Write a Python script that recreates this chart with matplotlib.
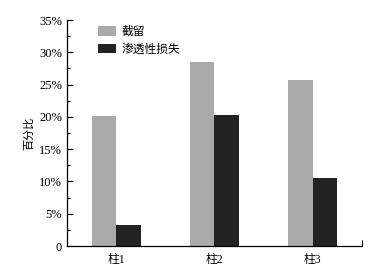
import matplotlib

matplotlib.use("Agg")
import matplotlib.pyplot as plt
from matplotlib.ticker import FixedLocator, MultipleLocator

plt.rcParams["font.family"] = ["Liberation Serif", "Noto Sans CJK SC"]

categories = ["柱1", "柱2", "柱3"]
jieliu = [20.1, 28.5, 25.7]      # 截留
shentou = [3.2, 20.3, 10.6]      # 渗透性损失
yticks = [0, 5, 10, 15, 20, 25, 30, 35]
ylabels = ["0", "5%", "10%", "15%", "20%", "25%", "30%", "35%"]

fig = plt.figure(figsize=(3.83, 2.74), dpi=100)
ax = fig.add_axes([0.175, 0.102, 0.77, 0.825])

x = [1, 2, 3]
w = 0.25
ax.bar([i - w / 2 for i in x], jieliu, width=w, color="#aaaaaa", label="截留")
ax.bar([i + w / 2 for i in x], shentou, width=w, color="#222222", label="渗透性损失")

ax.set_xlim(0.5, 3.5)
ax.set_ylim(0, 35)
ax.set_xticks(x)
ax.set_xticklabels(categories, fontsize=8.5)
ax.xaxis.set_minor_locator(FixedLocator([3.5]))
ax.set_yticks(yticks)
ax.set_yticklabels(ylabels, fontsize=9)
ax.yaxis.set_minor_locator(MultipleLocator(2.5))
ax.tick_params(axis="y", which="major", direction="in", length=4, width=0.8)
ax.tick_params(axis="y", which="minor", direction="in", length=2.5, width=0.8)
ax.tick_params(axis="x", which="major", length=0, pad=6)
ax.tick_params(axis="x", which="minor", direction="in", length=4, width=0.8)

for s in ("top", "right"):
    ax.spines[s].set_visible(False)
for s in ("left", "bottom"):
    ax.spines[s].set_linewidth(0.9)

ax.set_ylabel("百分比", fontsize=8, labelpad=4)
ax.legend(loc="upper left", bbox_to_anchor=(0.07, 1.02), frameon=False, fontsize=8.5,
          handlelength=1.5, handleheight=0.8, handletextpad=0.5, labelspacing=0.5)

fig.savefig("out.png", dpi=100)
